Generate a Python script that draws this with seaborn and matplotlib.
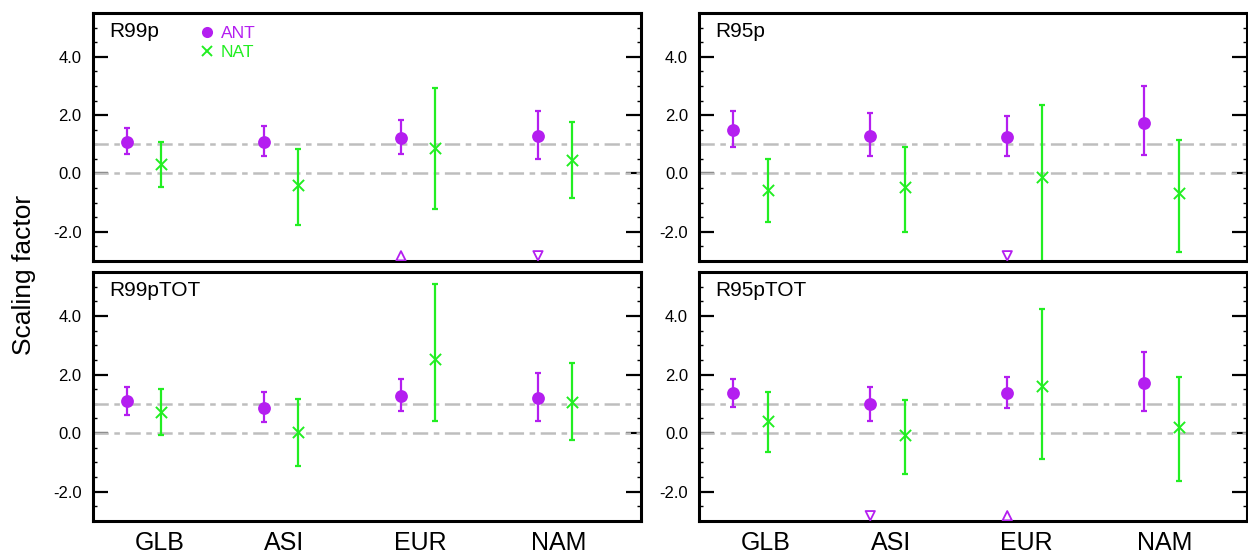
import numpy as np
import pandas as pd
import seaborn as sns
import matplotlib.pyplot as plt
from matplotlib.lines import Line2D
from matplotlib.ticker import MultipleLocator

regions = ['GLB', 'ASI', 'EUR', 'NAM']
indices = ['R99p', 'R95p', 'R99pTOT', 'R95pTOT']

# scaling factors: best estimate and 5-95% range, one value per region
ant_best = {'R99p': [1.09, 1.09, 1.22, 1.27], 'R95p': [1.49, 1.27, 1.26, 1.73],
            'R99pTOT': [1.09, 0.86, 1.28, 1.20], 'R95pTOT': [1.36, 0.98, 1.38, 1.72]}
ant_lo = {'R99p': [0.66, 0.60, 0.67, 0.48], 'R95p': [0.90, 0.60, 0.61, 0.63],
          'R99pTOT': [0.61, 0.39, 0.77, 0.43], 'R95pTOT': [0.88, 0.43, 0.86, 0.75]}
ant_hi = {'R99p': [1.57, 1.64, 1.82, 2.13], 'R95p': [2.14, 2.06, 1.98, 3.01],
          'R99pTOT': [1.56, 1.40, 1.84, 2.05], 'R95pTOT': [1.84, 1.56, 1.90, 2.78]}
nat_best = {'R99p': [0.32, -0.40, 0.89, 0.45], 'R95p': [-0.55, -0.45, -0.11, -0.68],
            'R99pTOT': [0.73, 0.05, 2.52, 1.06], 'R95pTOT': [0.41, -0.07, 1.60, 0.20]}
nat_lo = {'R99p': [-0.45, -1.77, -1.20, -0.83], 'R95p': [-1.66, -2.00, -3.40, -2.69],
          'R99pTOT': [-0.07, -1.11, 0.42, -0.24], 'R95pTOT': [-0.64, -1.39, -0.89, -1.64]}
nat_hi = {'R99p': [1.08, 0.84, 2.93, 1.78], 'R95p': [0.49, 0.91, 2.35, 1.16],
          'R99pTOT': [1.51, 1.16, 5.10, 2.39], 'R95pTOT': [1.40, 1.14, 4.22, 1.90]}

# residual consistency flags for ANT (open triangles at the bottom of the panel)
flag_up = {'R99p': ['EUR'], 'R95p': [], 'R99pTOT': [], 'R95pTOT': ['EUR']}
flag_down = {'R99p': ['NAM'], 'R95p': ['EUR'], 'R99pTOT': [], 'R95pTOT': ['ASI']}

ant_color = '#B41EF0'
nat_color = '#22EE22'
offset = {'ANT': 0.25, 'NAT': 0.5}
label_x = [0.49, 1.40, 2.39, 3.40]
flag_y = -2.82

rows = []
for idx in indices:
    for i, reg in enumerate(regions):
        rows.append([idx, reg, 'ANT', i + offset['ANT'], ant_best[idx][i], ant_lo[idx][i], ant_hi[idx][i]])
        rows.append([idx, reg, 'NAT', i + offset['NAT'], nat_best[idx][i], nat_lo[idx][i], nat_hi[idx][i]])
df = pd.DataFrame(rows, columns=['index', 'region', 'forcing', 'x', 'best', 'lo', 'hi'])

sns.set_style('ticks')
plt.rcParams['font.family'] = ['Liberation Sans', 'DejaVu Sans']
plt.rcParams['lines.scale_dashes'] = False
for key in ['text.color', 'axes.labelcolor', 'xtick.color', 'ytick.color', 'axes.edgecolor']:
    plt.rcParams[key] = 'black'

fig = plt.figure(figsize=(12.48, 5.55), dpi=100)
rects = {'R99p': [0.0743, 0.5297, 0.4391, 0.4468], 'R95p': [0.5601, 0.5297, 0.4391, 0.4468],
         'R99pTOT': [0.0743, 0.0613, 0.4391, 0.4486], 'R95pTOT': [0.5601, 0.0613, 0.4391, 0.4486]}

for idx in indices:
    ax = fig.add_axes(rects[idx])
    sub = df[df['index'] == idx]
    for y0 in [0, 1]:
        ax.axhline(y0, color='#BEBEBE', lw=1.8, ls=(0, (11, 4, 4, 4)), zorder=1)
    for forcing, color, marker, ms in [('ANT', ant_color, 'o', 85), ('NAT', nat_color, 'x', 65)]:
        s = sub[sub['forcing'] == forcing]
        ax.errorbar(s['x'], s['best'], yerr=[s['best'] - s['lo'], s['hi'] - s['best']],
                    fmt='none', ecolor=color, elinewidth=1.6, capsize=2.3, capthick=1.6, zorder=2)
        if marker == 'o':
            sns.scatterplot(data=s, x='x', y='best', color=color, marker=marker, s=ms,
                            edgecolor=color, linewidth=0, ax=ax, zorder=3)
        else:
            sns.scatterplot(data=s, x='x', y='best', color=color, marker=marker, s=ms,
                            linewidth=1.4, ax=ax, zorder=3)
    s_ant = sub[sub['forcing'] == 'ANT']
    up = s_ant[s_ant['region'].isin(flag_up[idx])]
    down = s_ant[s_ant['region'].isin(flag_down[idx])]
    ax.scatter(up['x'], [flag_y] * len(up), marker='^', s=45, facecolor='none',
               edgecolor=ant_color, linewidth=1.3, zorder=3)
    ax.scatter(down['x'], [flag_y] * len(down), marker='v', s=45, facecolor='none',
               edgecolor=ant_color, linewidth=1.3, zorder=3)

    ax.set_xlim(0, 4)
    ax.set_ylim(-3, 5.5)
    ax.set_yticks([-2, 0, 2, 4])
    ax.set_yticklabels(['-2.0', '0.0', '2.0', '4.0'], fontsize=12)
    ax.yaxis.set_minor_locator(MultipleLocator(0.5))
    ax.tick_params(axis='y', which='major', direction='in', length=11, width=1.6,
                   left=True, right=True, pad=8)
    ax.tick_params(axis='y', which='minor', direction='in', length=3, width=1,
                   left=True, right=True)
    if idx in ['R99pTOT', 'R95pTOT']:
        ax.set_xticks(label_x)
        ax.set_xticklabels(regions, fontsize=18)
        ax.tick_params(axis='x', length=0, pad=7)
    else:
        ax.set_xticks([])
    ax.set_xlabel('')
    ax.set_ylabel('')
    for sp in ax.spines.values():
        sp.set_visible(True)
        sp.set_linewidth(2.2)
    ax.text(0.03, 0.925, idx, transform=ax.transAxes, fontsize=15, va='center', ha='left')
    leg = ax.get_legend()
    if leg is not None:
        leg.remove()
    if idx == 'R99p':
        handles = [Line2D([], [], marker='o', color=ant_color, ls='none', ms=8, mew=0),
                   Line2D([], [], marker='x', color=nat_color, ls='none', ms=7, mew=1.4)]
        ax.legend(handles, ['ANT', 'NAT'], loc='upper left', bbox_to_anchor=(0.18, 0.985),
                  frameon=False, fontsize=12.5, handlelength=0.8, handletextpad=0.4,
                  labelspacing=0.25, borderpad=0, labelcolor=[ant_color, nat_color])

fig.text(0.019, 0.505, 'Scaling factor', rotation=90, va='center', ha='center', fontsize=19)

plt.savefig('out.png', dpi=100)
